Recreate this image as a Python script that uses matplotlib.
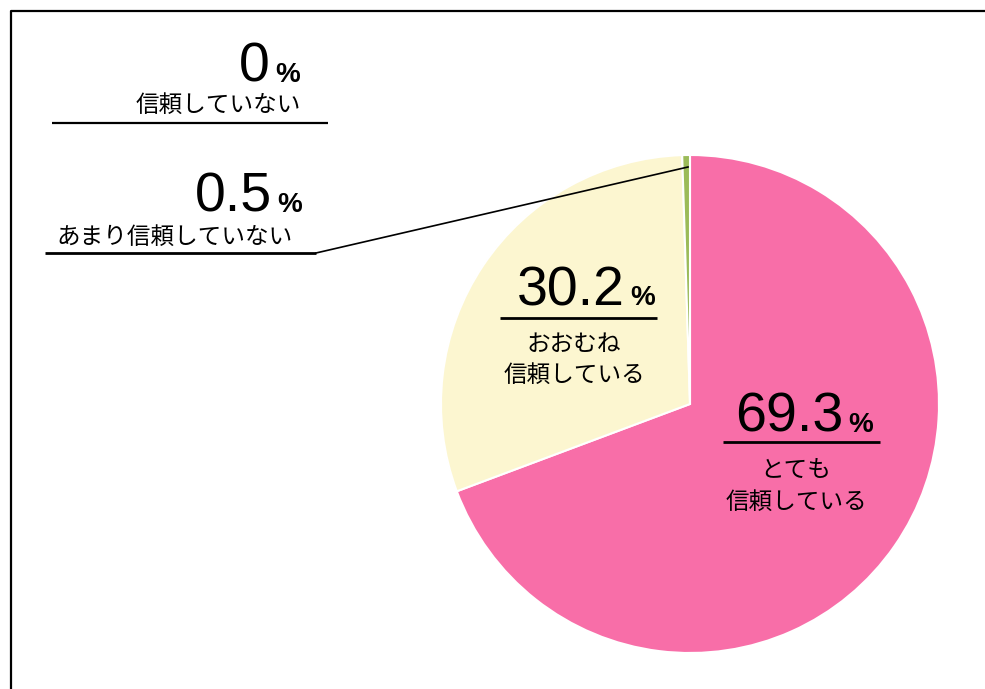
import matplotlib
matplotlib.use("Agg")
import matplotlib.pyplot as plt

# ---- data ----
categories = ["とても\n信頼している", "おおむね\n信頼している", "あまり信頼していない", "信頼していない"]
values = [69.3, 30.2, 0.5, 0.0]
colors = ["#F86EA8", "#FCF6D0", "#9BBB59", "#7F7F7F"]

# ---- layout (pixel positions in image coords, y down) ----
W, H = 985, 689
cx, cy, R = 690, 404, 249
num_pos = [(843, 432), (625, 305), (272, 212), (270, 82)]   # right edge / baseline of the number
label_pos = [(796, [470, 502]), (574, [345, 375]), (175, [237]), (218, [105])]
underlines = [((723, 442), (880, 442)), ((500, 318), (657, 318)),
              ((45, 253), (316, 253)), ((52, 123), (328, 123))]
num_size = [40, 40, 40, 40]

fig = plt.figure(figsize=(W / 100, H / 100), dpi=100)
ax = fig.add_axes([0, 0, 1, 1])

def Y(y):
    return H - y

draw_vals = [v for v in values if v > 0]
draw_cols = [c for v, c in zip(values, colors) if v > 0]
ax.pie(draw_vals, colors=draw_cols, center=(cx, Y(cy)), radius=R, startangle=90,
       counterclock=False, wedgeprops=dict(edgecolor="white", linewidth=1.5))

ax.set_xlim(0, W)
ax.set_ylim(0, H)
ax.set_aspect("equal")
ax.axis("off")

num_font = ["Liberation Sans", "DejaVu Sans"]
jp_font = ["Noto Sans CJK JP", "DejaVu Sans"]

for i, v in enumerate(values):
    s = f"{v:g}" if v != int(v) else f"{int(v)}"
    nx, ny = num_pos[i]
    ax.text(nx, Y(ny), s, ha="right", va="baseline", fontsize=num_size[i],
            family=num_font, color="black")
    ax.text(nx + 5, Y(ny), "%", ha="left", va="baseline", fontsize=20,
            fontweight="bold", family=num_font, color="black")
    lx, lys = label_pos[i]
    for line, ly in zip(categories[i].split("\n"), lys):
        ax.text(lx, Y(ly), line, ha="center", va="center", fontsize=17,
                family=jp_font, color="black")
    (x1, y1), (x2, y2) = underlines[i]
    ax.plot([x1, x2], [Y(y1), Y(y2)], color="black", lw=2 if i < 3 else 1.6,
            solid_capstyle="butt")

# leader line from 0.5% label to its slice
ax.plot([316, 688], [Y(253), Y(167)], color="black", lw=1.2)

# frame
ax.plot([11, 11, W + 5], [-5, Y(11), Y(11)], color="black", lw=1.6, clip_on=False)

fig.savefig("out.png", dpi=100)
